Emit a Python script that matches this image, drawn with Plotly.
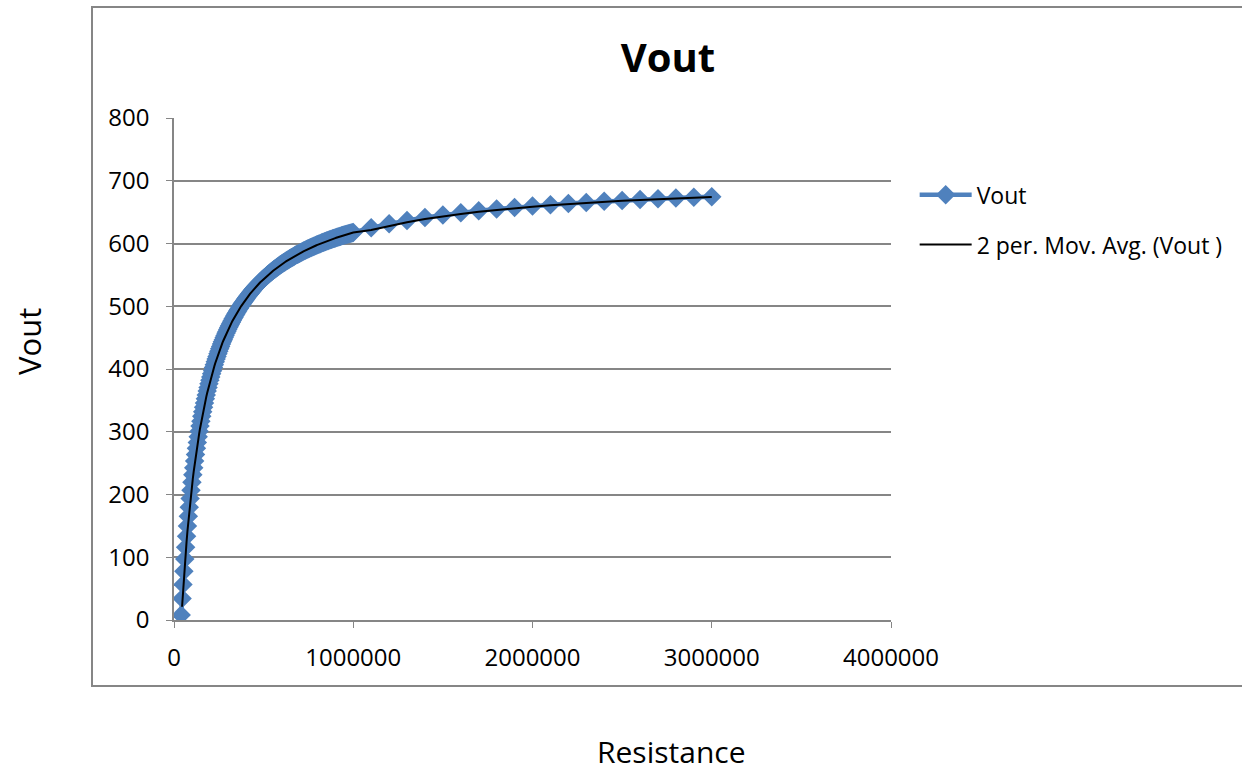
import plotly.graph_objects as go

# Resistance (ohm) sample points
resistance = [
    40000, 45000, 50000, 55000, 60000, 65000, 70000, 75000, 80000, 85000,
    90000, 95000, 100000, 105000, 110000, 115000, 120000, 125000, 130000, 135000,
    140000, 145000, 150000, 155000, 160000, 165000, 170000, 175000, 180000, 185000,
    190000, 195000, 200000, 205000, 210000, 215000, 220000, 225000, 230000, 235000,
    240000, 245000, 250000, 255000, 260000, 265000, 270000, 275000, 280000, 285000,
    290000, 295000, 300000, 305000, 310000, 315000, 320000, 325000, 330000, 335000,
    340000, 345000, 350000, 355000, 360000, 365000, 370000, 375000, 380000, 385000,
    390000, 395000, 400000, 405000, 410000, 415000, 420000, 425000, 430000, 435000,
    440000, 445000, 450000, 455000, 460000, 465000, 470000, 475000, 480000, 485000,
    490000, 495000, 500000, 505000, 510000, 515000, 520000, 525000, 530000, 535000,
    540000, 545000, 550000, 555000, 560000, 565000, 570000, 575000, 580000, 585000,
    590000, 595000, 600000, 605000, 610000, 615000, 620000, 625000, 630000, 635000,
    640000, 645000, 650000, 655000, 660000, 665000, 670000, 675000, 680000, 685000,
    690000, 695000, 700000, 705000, 710000, 715000, 720000, 725000, 730000, 735000,
    740000, 745000, 750000, 755000, 760000, 765000, 770000, 775000, 780000, 785000,
    790000, 795000, 800000, 805000, 810000, 815000, 820000, 825000, 830000, 835000,
    840000, 845000, 850000, 855000, 860000, 865000, 870000, 875000, 880000, 885000,
    890000, 895000, 900000, 905000, 910000, 915000, 920000, 925000, 930000, 935000,
    940000, 945000, 950000, 955000, 960000, 965000, 970000, 975000, 980000, 985000,
    990000, 995000, 1000000,
    1100000, 1200000, 1300000, 1400000, 1500000, 1600000, 1700000, 1800000, 1900000, 2000000,
    2100000, 2200000, 2300000, 2400000, 2500000, 2600000, 2700000, 2800000, 2900000, 3000000,
]

# Vout readings
vout = [
    8.0, 34.2, 56.7, 77.7, 97.4, 115.9, 133.3, 149.7, 165.2, 179.8,
    193.7, 206.9, 219.4, 231.3, 242.6, 253.4, 263.7, 273.6, 283.0, 292.0,
    300.7, 309.0, 316.9, 324.6, 331.9, 339.0, 345.8, 352.4, 358.7, 364.8,
    370.7, 376.4, 381.9, 387.2, 392.3, 397.3, 402.2, 406.8, 411.4, 415.8,
    420.1, 424.2, 428.2, 432.2, 436.0, 439.7, 443.3, 446.8, 450.2, 453.5,
    456.8, 459.9, 463.0, 466.0, 468.9, 471.8, 474.6, 477.3, 480.0, 482.6,
    485.1, 487.6, 490.0, 492.4, 494.7, 497.0, 499.2, 501.4, 503.5, 505.6,
    507.7, 509.7, 511.7, 513.6, 515.5, 517.3, 519.1, 520.9, 522.7, 524.4,
    526.1, 527.7, 529.3, 530.9, 532.5, 534.0, 535.5, 537.0, 538.5, 539.9,
    541.3, 542.7, 544.1, 545.4, 546.7, 548.0, 549.3, 550.6, 551.8, 553.0,
    554.2, 555.4, 556.5, 557.7, 558.8, 559.9, 561.0, 562.1, 563.1, 564.2,
    565.2, 566.2, 567.2, 568.2, 569.2, 570.1, 571.1, 572.0, 572.9, 573.8,
    574.7, 575.6, 576.5, 577.3, 578.2, 579.0, 579.8, 580.7, 581.5, 582.3,
    583.0, 583.8, 584.6, 585.3, 586.1, 586.8, 587.5, 588.3, 589.0, 589.7,
    590.4, 591.1, 591.7, 592.4, 593.1, 593.7, 594.4, 595.0, 595.6, 596.2,
    596.9, 597.5, 598.1, 598.7, 599.3, 599.8, 600.4, 601.0, 601.6, 602.1,
    602.7, 603.2, 603.8, 604.3, 604.8, 605.4, 605.9, 606.4, 606.9, 607.4,
    607.9, 608.4, 608.9, 609.4, 609.8, 610.3, 610.8, 611.2, 611.7, 612.2,
    612.6, 613.1, 613.5, 613.9, 614.4, 614.8, 615.2, 615.7, 616.1, 616.5,
    616.9, 617.3, 617.7,
    625.1, 631.3, 636.6, 641.3, 645.3, 648.9, 652.1, 654.9, 657.5, 659.8,
    661.9, 663.8, 665.5, 667.2, 668.7, 670.0, 671.3, 672.5, 673.6, 674.7,
]

x_ticks = [0, 1000000, 2000000, 3000000, 4000000]
x_tick_labels = ["0", "1000000", "2000000", "3000000", "4000000"]

# 2-period moving average trendline (Excel style)
ma_x = resistance[1:]
ma_y = [(vout[i - 1] + vout[i]) / 2 for i in range(1, len(vout))]

FONT = "Open Sans"
GRAY = "#868686"
BLUE = "#4F81BD"

fig = go.Figure()
fig.add_trace(go.Scatter(x=resistance, y=vout, name="Vout", mode="lines+markers",
                         line=dict(color=BLUE, width=4.5),
                         marker=dict(symbol="diamond", size=15, color=BLUE),
                         legendgroup="a"))
fig.add_trace(go.Scatter(x=ma_x, y=ma_y, name="2 per. Mov. Avg. (Vout )", mode="lines",
                         line=dict(color="black", width=2), legendgroup="b"))

fig.update_layout(
    width=1242, height=772, autosize=False,
    margin=dict(l=174, r=351, t=118, b=152, pad=0),
    paper_bgcolor="white", plot_bgcolor="white",
    font=dict(family=FONT, size=24, color="black"),
    title=dict(text="<b>Vout</b>", font=dict(size=40, family=FONT), xref="container", yref="container",
               x=668 / 1242, y=1 - 58 / 772, xanchor="center", yanchor="middle"),
    xaxis=dict(range=[0, 4000000], tickvals=x_ticks, ticktext=x_tick_labels,
               ticks="outside", ticklen=6, tickcolor=GRAY, showline=True, linecolor=GRAY,
               linewidth=1.5, showgrid=False, zeroline=False, ticklabelstandoff=9),
    yaxis=dict(range=[0, 800], dtick=100, ticks="outside", ticklen=6, tickcolor=GRAY,
               showline=True, linecolor=GRAY, linewidth=1.5, showgrid=True, gridcolor=GRAY,
               gridwidth=1.5, zeroline=False, ticklabelstandoff=12),
    legend=dict(x=1.033, y=0.89, xanchor="left", yanchor="top", font=dict(size=23),
                tracegroupgap=17, itemwidth=52, bgcolor="rgba(0,0,0,0)"),
    shapes=[dict(type="rect", xref="paper", yref="paper",
                 x0=(92 - 174) / 717, x1=(1250 - 174) / 717,
                 y0=(620 - 686) / 502, y1=(620 - 7) / 502,
                 line=dict(color=GRAY, width=2), fillcolor="rgba(0,0,0,0)", layer="below")],
    annotations=[
        dict(text="Vout", xref="paper", yref="paper", x=(29 - 174) / 717, y=(620 - 342) / 502,
             showarrow=False, textangle=-90, font=dict(size=31), xanchor="center", yanchor="middle"),
        dict(text="Resistance", xref="paper", yref="paper", x=(671 - 174) / 717, y=(620 - 751) / 502,
             showarrow=False, font=dict(size=30), xanchor="center", yanchor="middle"),
    ],
)
fig.write_html("out.html", config={"displayModeBar": False},
               post_script="document.body.style.margin='0';document.body.style.overflow='hidden';")
